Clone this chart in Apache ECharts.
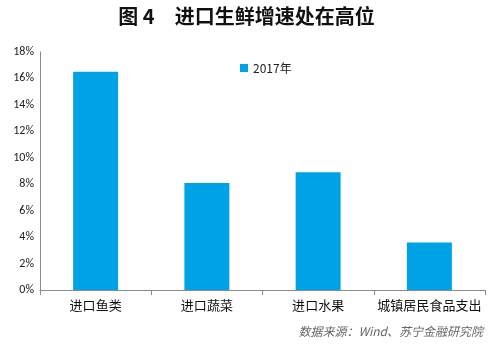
<!DOCTYPE html>
<html>
<head>
<meta charset="utf-8">
<script src="https://cdn.jsdelivr.net/npm/echarts@6/dist/echarts.min.js"></script>
<style>
  html, body { margin: 0; padding: 0; background: #fff; }
  #chart { width: 493px; height: 346px; }
</style>
</head>
<body>
<div id="chart"></div>
<script>
// Categories and 2017 growth rates (%)
const categories = ['进口鱼类', '进口蔬菜', '进口水果', '城镇居民食品支出'];
const growth2017 = [16.5, 8.1, 8.9, 3.6];
const seriesName = '2017年';
const yTicks = [0, 2, 4, 6, 8, 10, 12, 14, 16, 18];

const cjk = '"Noto Sans CJK SC", "Microsoft YaHei", sans-serif';

const chart = echarts.init(document.getElementById('chart'));
chart.setOption({
  animation: false,
  title: {
    text: '图 4　进口生鲜增速处在高位',
    left: 'center',
    top: 1,
    textStyle: { fontFamily: cjk, fontSize: 20, fontWeight: 'bold', color: '#111' }
  },
  legend: {
    data: [seriesName],
    left: 235,
    top: 57,
    itemWidth: 8,
    itemHeight: 8,
    itemGap: 4,
    icon: 'rect',
    textStyle: { fontFamily: cjk, fontSize: 12, color: '#222' }
  },
  graphic: [{
    type: 'text',
    right: 10,
    top: 325,
    style: {
      text: '数据来源：Wind、苏宁金融研究院',
      font: 'italic 12px ' + cjk,
      fill: '#666'
    }
  }],
  grid: { left: 40, right: 8, top: 52, bottom: 56 },
  xAxis: {
    type: 'category',
    data: categories,
    axisLine: { lineStyle: { color: '#8a8a8a' } },
    axisTick: { show: true, length: 5, lineStyle: { color: '#8a8a8a' } },
    axisLabel: { fontFamily: cjk, fontSize: 13, color: '#111', margin: 9, interval: 0 }
  },
  yAxis: {
    type: 'value',
    min: yTicks[0],
    max: yTicks[yTicks.length - 1],
    interval: 2,
    splitLine: { show: false },
    axisLine: { show: true, lineStyle: { color: '#8a8a8a' } },
    axisTick: { show: false },
    axisLabel: {
      formatter: v => v + '%',
      fontFamily: 'Carlito, "Liberation Sans", sans-serif',
      fontSize: 12,
      color: '#222',
      margin: 6
    }
  },
  series: [{
    name: seriesName,
    type: 'bar',
    data: growth2017,
    barWidth: 45,
    itemStyle: { color: '#00A2E6' }
  }]
});
</script>
</body>
</html>
